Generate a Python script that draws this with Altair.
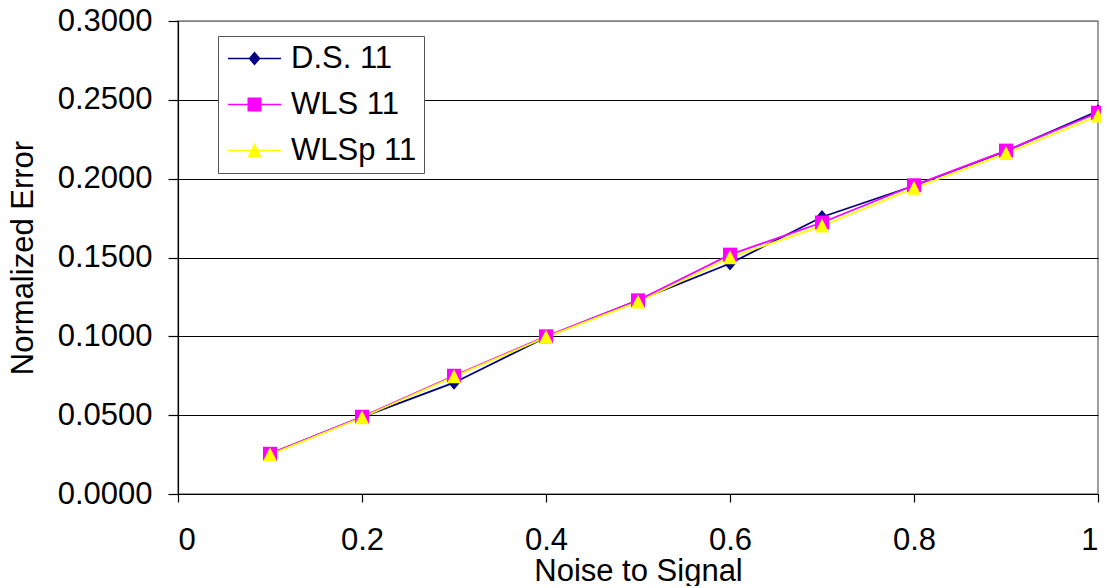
import altair as alt
import pandas as pd

noise = [0.1, 0.2, 0.3, 0.4, 0.5, 0.6, 0.7, 0.8, 0.9, 1.0]
ds11 = [0.0255, 0.0488, 0.0706, 0.0995, 0.1228, 0.1462, 0.1757, 0.1955, 0.2175, 0.2428]
wls11 = [0.0255, 0.0490, 0.0750, 0.1000, 0.1228, 0.1518, 0.1722, 0.1958, 0.2178, 0.2418]
wlsp11 = [0.0250, 0.0485, 0.0745, 0.0995, 0.1218, 0.1500, 0.1700, 0.1940, 0.2160, 0.2398]

series_names = ["D.S. 11", "WLS 11", "WLSp 11"]
series_colors = ["#000080", "#FF00FF", "#FFFF00"]
x_ticks = [0, 0.2, 0.4, 0.6, 0.8, 1.0]
y_ticks = [0, 0.05, 0.10, 0.15, 0.20, 0.25, 0.30]

rows = []
for name, vals in zip(series_names, [ds11, wls11, wlsp11]):
    for xv, yv in zip(noise, vals):
        rows.append({"noise": xv, "err": yv, "series": name})
df = pd.DataFrame(rows)

FONT = "Liberation Sans"

marker_paths = [
    "M0,-1L0.85,0L0,1L-0.85,0Z",
    "M-1,-1H1V1H-1Z",
    "M0,-1.05L1,0.95L-1,0.95Z",
]
LINE = "M-2.65,-0.08H2.65V0.08H-2.65Z"
legend_paths = [
    LINE + "M0,-0.7L0.6,0L0,0.7L-0.6,0Z",
    LINE + "M-0.7,-0.7H0.7V0.7H-0.7Z",
    LINE + "M0,-0.75L0.7,0.65L-0.7,0.65Z",
]

color_scale = alt.Scale(domain=series_names, range=series_colors)

x_enc = alt.X(
    "noise:Q",
    scale=alt.Scale(domain=[0, 1], nice=False),
    axis=alt.Axis(
        values=x_ticks, format="~g", title="Noise to Signal", grid=False,
        tickSize=8, labelPadding=23, titleY=86, titleBaseline="alphabetic",
    ),
)
y_enc = alt.Y(
    "err:Q",
    scale=alt.Scale(domain=[0, 0.3], nice=False),
    axis=alt.Axis(
        values=y_ticks, format=".4f", title="Normalized Error",
        tickSize=10, labelPadding=16, titlePadding=18,
        gridColor=alt.condition("datum.value >= 0.3", alt.value("#808080"), alt.value("#000000")),
    ),
)

base = alt.Chart(df)

lines = base.mark_line(strokeWidth=1.8).encode(
    x=x_enc, y=y_enc,
    color=alt.Color("series:N", scale=color_scale, legend=None),
)

point_layers = []
for name, path in zip(series_names, marker_paths):
    point_layers.append(
        base.transform_filter(alt.datum.series == name)
        .mark_point(filled=True, size=196, opacity=1, shape=path)
        .encode(
            x=x_enc, y=y_enc,
            color=alt.Color("series:N", scale=color_scale, legend=None),
        )
    )

leg = alt.Legend(
    title=None, orient="none", legendX=40, legendY=15,
    symbolSize=400, symbolOffset=14, labelOffset=21, rowPadding=14, padding=7,
    labelFont=FONT, labelFontSize=31, labelColor="black",
    strokeColor="#555555", fillColor="white",
    symbolOpacity=1, symbolStrokeWidth=0,
)

legend_layer = base.mark_point(filled=True, opacity=0).encode(
    x=x_enc, y=y_enc,
    color=alt.Color("series:N", scale=color_scale, legend=leg),
    shape=alt.Shape(
        "series:N",
        scale=alt.Scale(domain=series_names, range=legend_paths),
        legend=leg,
    ),
)

chart = (
    alt.layer(lines, *point_layers, legend_layer)
    .resolve_scale(color="independent", shape="independent")
    .properties(
        width=920, height=473,
        autosize=alt.AutoSizeParams(type="none"),
        padding={"left": 170, "top": 13, "right": 3, "bottom": 92},
    )
    .configure_view(stroke="#808080", strokeWidth=1.5)
    .configure_axis(
        labelFont=FONT, titleFont=FONT, labelFontSize=31, titleFontSize=31,
        labelColor="black", titleColor="black", titleFontWeight="normal",
        domainColor="black", tickColor="black", domainWidth=1.2, tickWidth=1.2,
        gridWidth=1.2,
    )
)

chart.save("out.html", embed_options={"renderer": "svg", "actions": False})
